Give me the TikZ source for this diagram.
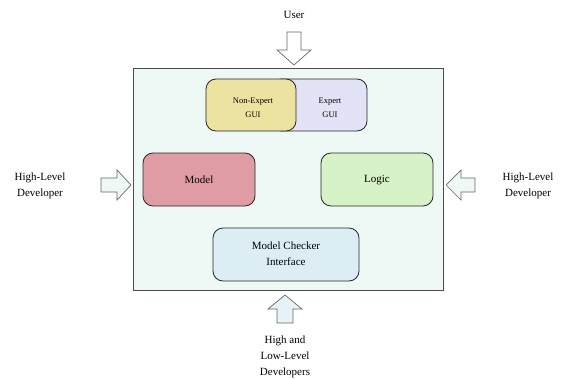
\documentclass[tikz,border=0pt]{standalone}
\usepackage{fontspec}
\setmainfont{Liberation Serif}
\begin{document}
\begin{tikzpicture}[x=1pt,y=-1pt,
  comp/.style={draw=black!85,line width=0.8pt,rounded corners=10pt},
  blockarrow/.style={draw=black!60,line width=0.7pt,fill=#1},
  lbl/.style={font=\fontsize{11}{16}\selectfont,align=center,inner sep=0pt},
  small/.style={font=\fontsize{8.5}{14}\selectfont,align=center,inner sep=0pt}]
\useasboundingbox (0,0) rectangle (568,380);
\definecolor{bgc}{HTML}{EEF9F6}
\definecolor{expc}{HTML}{E3E3F7}
\definecolor{nexc}{HTML}{EDE3A0}
\definecolor{modc}{HTML}{E09CA5}
\definecolor{logc}{HTML}{D8F2C8}
\definecolor{mcic}{HTML}{DCEEF4}
\definecolor{arrc}{HTML}{E8F3F9}
% main box
\draw[draw=black!70,line width=1pt,fill=bgc] (133,68) rectangle (443,290);
% GUI
\draw[comp,fill=expc] (271,79) rectangle (367,131);
\node[small] (expert) at (330,108) {Expert\\GUI};
\draw[comp,fill=nexc] (206,79) rectangle (296,131);
\node[small] (nonexpert) at (253,108) {Non-Expert\\GUI};
% Model / Logic
\draw[comp,fill=modc] (143,153) rectangle (255,206);
\node[lbl] (model) at (199,180) {Model};
\draw[comp,fill=logc] (321,153) rectangle (433,206);
\node[lbl] (logic) at (377,180) {Logic};
% MCI
\draw[comp,fill=mcic] (213,228) rectangle (359,281);
\node[lbl] (mci) at (286,254) {Model Checker\\Interface};
% arrows
\draw[blockarrow=white] (287,32) -- (301,32) -- (301,50) -- (311,50) -- (294,65) -- (277,50) -- (287,50) -- cycle;
\draw[blockarrow=bgc] (101,178) -- (117,178) -- (117,170) -- (131,185) -- (117,200) -- (117,192) -- (101,192) -- cycle;
\draw[blockarrow=bgc] (475,178) -- (461,178) -- (461,170) -- (446,185) -- (461,200) -- (461,192) -- (475,192) -- cycle;
\draw[blockarrow=arrc] (277,323) -- (293,323) -- (293,309) -- (302,309) -- (285,295) -- (268,309) -- (277,309) -- cycle;
% labels
\node[lbl] (user) at (294,15) {User};
\node[lbl] (hll) at (40,186) {High-Level\\Developer};
\node[lbl] (hlr) at (528,186) {High-Level\\Developer};
\node[lbl] (hlb) at (285,357) {High and\\Low-Level\\Developers};
\end{tikzpicture}
\end{document}
